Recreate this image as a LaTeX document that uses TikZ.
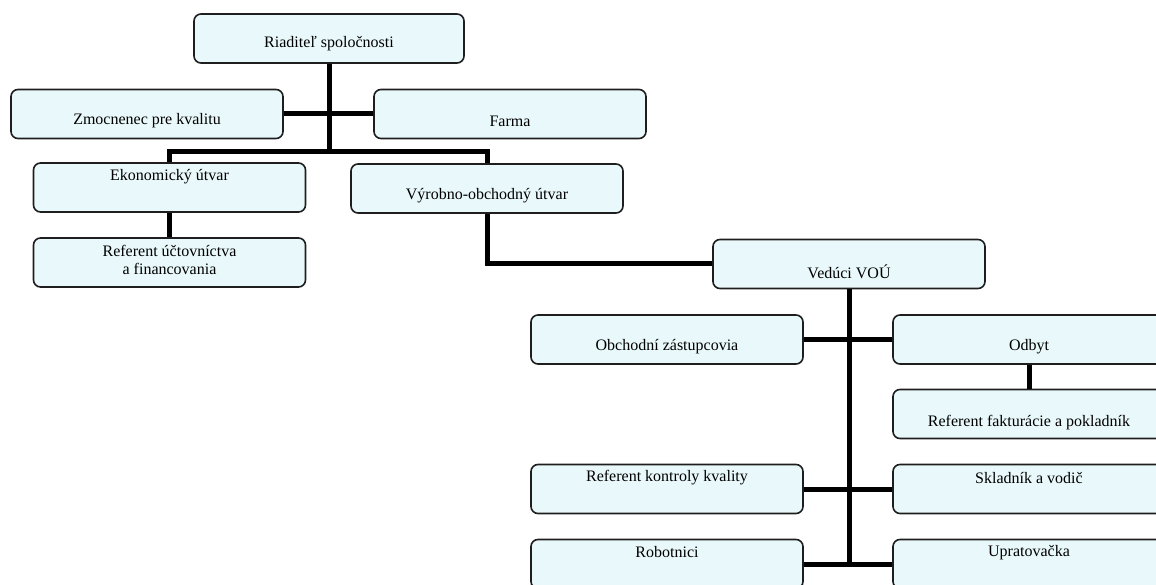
\documentclass[tikz,border=0pt]{standalone}
\usepackage{fontspec}
\setmainfont{Liberation Serif}
\definecolor{boxfill}{RGB}{233,248,250}
\definecolor{boxline}{RGB}{30,30,30}

\begin{document}
\begin{tikzpicture}[x=1pt,y=-1pt,
    unit/.style={draw=boxline, line width=1.6pt, fill=boxfill, rounded corners=7pt,
      minimum width=272pt, minimum height=49pt, inner sep=0pt},
    txt/.style={font=\fontsize{16}{18}\selectfont, align=center, inner sep=0pt},
    link/.style={line width=5pt, black}]
  \useasboundingbox (0,0) rectangle (1156,585);
  \clip (0,0) rectangle (1156,585);

  % Vedenie
  \node[unit, minimum width=270pt, label={[txt,yshift=-5pt]center:Riaditeľ spoločnosti}] (riad) at (329,38.5) {};
  \node[unit, label={[txt,yshift=-7pt]center:Zmocnenec pre kvalitu}] (zmoc) at (147,114) {};
  \node[unit, label={[txt,yshift=-7pt]center:Farma}] (farma) at (510,114) {};

  % Utvary
  \node[unit, label={[txt,yshift=11pt]center:Ekonomický útvar}] (ekon) at (169.5,187.5) {};
  \node[unit, label={[txt,yshift=-7pt]center:Výrobno-obchodný útvar}] (vyrob) at (487,188.5) {};
  \node[unit, label={[txt,yshift=3pt]center:Referent účtovníctva\\a financovania}] (refuct) at (169.5,262.5) {};

  % Vyrobno-obchodny utvar
  \node[unit, label={[txt,yshift=-8pt]center:Vedúci VOÚ}] (veduci) at (849,264) {};
  \node[unit, label={[txt,yshift=-7pt]center:Obchodní zástupcovia}] (obchod) at (667,339.5) {};
  \node[unit, label={[txt,yshift=-7pt]center:Odbyt}] (odbyt) at (1029,339.5) {};
  \node[unit, label={[txt,yshift=-9pt]center:Referent fakturácie a pokladník}] (refpok) at (1029,414) {};
  \node[unit, label={[txt,yshift=11pt]center:Referent kontroly kvality}] (refkon) at (667,489) {};
  \node[unit, label={[txt,yshift=11pt]center:Skladník a vodič}] (sklad) at (1029,489) {};
  \node[unit, label={[txt,yshift=11.5pt]center:Robotnici}] (robot) at (667,564) {};
  \node[unit, label={[txt,yshift=11.5pt]center:Upratovačka}] (uprat) at (1029,564) {};

  % Spojnice
  \coordinate (uzol) at (riad.south |- 0,152);
  \draw[link] (riad.south) -- (uzol);
  \draw[link] (zmoc.east) -- (farma.west);
  \draw[link] (ekon.north) |- (uzol) -| (vyrob.north);
  \draw[link] (ekon.south) -- (refuct.north);
  \draw[link] (vyrob.south) |- (veduci.west);
  \draw[link] (veduci.south) -- (veduci.south |- robot.east);
  \draw[link] (obchod.east) -- (odbyt.west);
  \draw[link] (odbyt.south) -- (refpok.north);
  \draw[link] (refkon.east) -- (sklad.west);
  \draw[link] (robot.east) -- (uprat.west);
\end{tikzpicture}
\end{document}
